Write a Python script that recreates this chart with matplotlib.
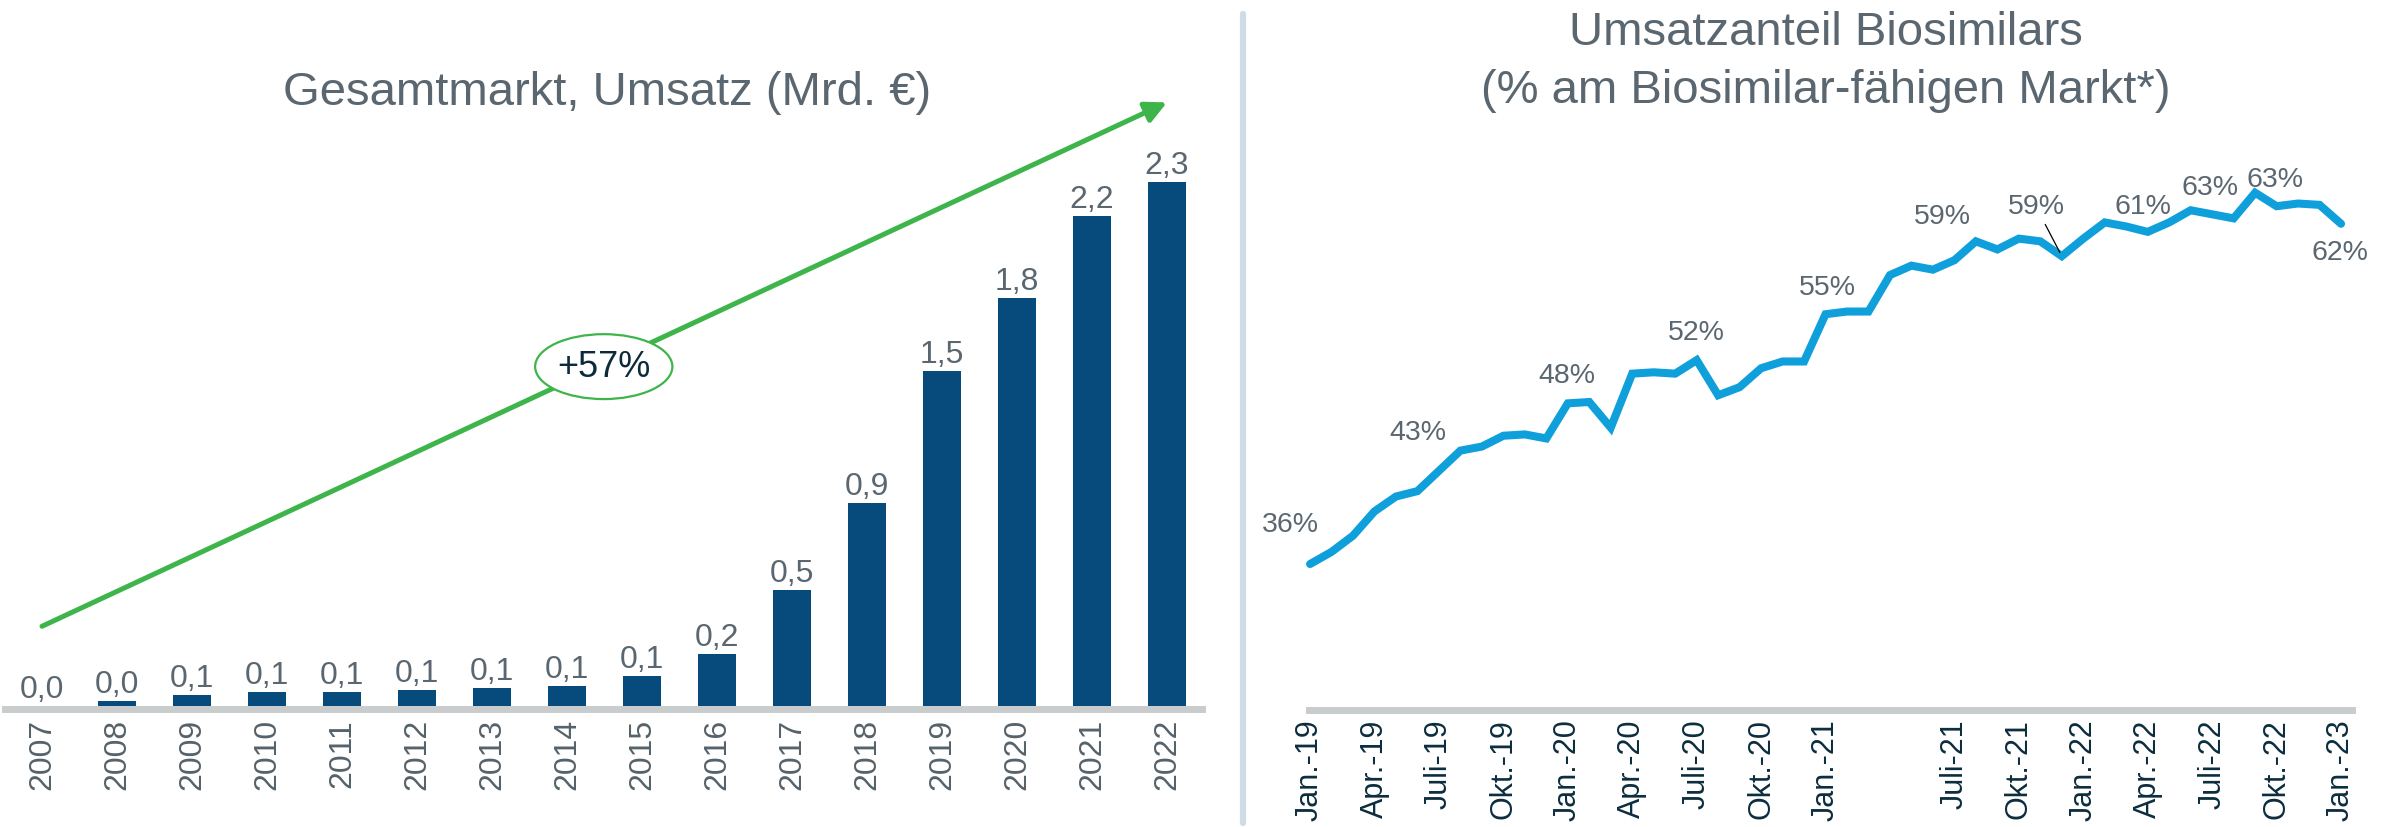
import matplotlib
matplotlib.use('Agg')
import matplotlib.pyplot as plt
from matplotlib.patches import Ellipse
from matplotlib.lines import Line2D

plt.rcParams['font.family'] = ['Liberation Sans', 'DejaVu Sans']

# left chart: total market revenue (bn EUR)
years = ['2007', '2008', '2009', '2010', '2011', '2012', '2013', '2014',
         '2015', '2016', '2017', '2018', '2019', '2020', '2021', '2022']
umsatz = [0.0, 0.02, 0.05, 0.06, 0.06, 0.07, 0.08, 0.09,
          0.13, 0.23, 0.51, 0.89, 1.47, 1.79, 2.15, 2.30]
umsatz_labels = ['0,0', '0,0', '0,1', '0,1', '0,1', '0,1', '0,1', '0,1',
                 '0,1', '0,2', '0,5', '0,9', '1,5', '1,8', '2,2', '2,3']

# right chart: biosimilar share, monthly Jan 2019 - Jan 2023 (%)
anteil = [36.0, 36.9, 38.1, 39.9, 41.0, 41.4, 42.9, 44.4, 44.7, 45.5, 45.6, 45.3,
          47.9, 48.0, 46.1, 50.1, 50.2, 50.1, 51.1, 48.5, 49.1, 50.5, 51.0, 51.0,
          54.5, 54.7, 54.7, 57.4, 58.1, 57.8, 58.5, 59.9, 59.3, 60.1, 59.9, 58.8,
          60.1, 61.3, 61.0, 60.6, 61.3, 62.2, 61.9, 61.6, 63.5, 62.5, 62.7, 62.6,
          61.2]
tick_pos = list(range(0, 49, 3))
tick_labels = ['Jan.-19', 'Apr.-19', 'Juli-19', 'Okt.-19', 'Jan.-20', 'Apr.-20',
               'Juli-20', 'Okt.-20', 'Jan.-21', '', 'Juli-21', 'Okt.-21',
               'Jan.-22', 'Apr.-22', 'Juli-22', 'Okt.-22', 'Jan.-23']
# labelled points: index, text, offset in pixels
point_labels = [(0, '36%', (-20, 40)), (5, '43%', (0, 59)), (12, '48%', (-1, 28)),
                (18, '52%', (0, 28)), (24, '55%', (2, 27)), (31, '59%', (-33, 25)),
                (38, '61%', (17, 20)), (41, '63%', (19, 23)), (44, '63%', (20, 14)),
                (48, '62%', (-1, -28))]
leader_label = (35, '59%', (-25, 50))

grey = '#5b6770'
navy = '#064b7b'
blue = '#0fa0db'
green = '#3db54a'
axis_grey = '#c8cccd'

W, H = 2397, 828
fig = plt.figure(figsize=(W / 100, H / 100), dpi=100)

# ---- left: bars
ax1 = fig.add_axes([0, (H - 707) / H, 1210 / W, 607 / H])
x = range(len(years))
ax1.bar(x, umsatz, width=0.5, color=navy, zorder=2)
for i, (v, lab) in enumerate(zip(umsatz, umsatz_labels)):
    ax1.annotate(lab, (i, v), xytext=(0, 9), textcoords='offset pixels',
                 ha='center', va='baseline', fontsize=23, color=grey)
ax1.set_xlim(-0.56, 15.573)
ax1.set_ylim(0, 2.665)
for s in ['top', 'right', 'left']:
    ax1.spines[s].set_visible(False)
ax1.spines['bottom'].set_position(('outward', 2.5))
ax1.spines['bottom'].set_linewidth(5)
ax1.spines['bottom'].set_color(axis_grey)
ax1.spines['bottom'].set_bounds(-0.49, 15.47)
ax1.set_yticks([])
ax1.set_xticks(list(x))
ax1.set_xticklabels(years, rotation=90, fontsize=23, color='#56626a')
ax1.tick_params(axis='x', length=0, pad=6)

ax1.annotate('', xy=(15, 2.65), xytext=(0, 0.35),
             arrowprops=dict(arrowstyle='-|>', color=green, lw=3.6,
                             mutation_scale=32, shrinkA=0, shrinkB=0))
ax1.add_patch(Ellipse((7.49, 1.49), 1.83, 0.285, facecolor='white',
                      edgecolor=green, lw=1.6, zorder=4))
ax1.text(7.49, 1.49, '+57%', ha='center', va='center', fontsize=26,
         color='#0d2a3b', zorder=5)

fig.text(607 / W, 1 - 105 / H, 'Gesamtmarkt, Umsatz (Mrd. €)', ha='center',
         va='baseline', fontsize=34, color=grey)

# ---- right: line
ax2 = fig.add_axes([1260 / W, (H - 711) / H, 1130 / W, 611 / H])
ax2.plot(range(len(anteil)), anteil, color=blue, lw=5.8, solid_joinstyle='miter',
         solid_capstyle='round', zorder=3)
ax2.set_xlim(-2.33, 50.28)
ax2.set_ylim(25.19, 70.44)
for s in ['top', 'right', 'left']:
    ax2.spines[s].set_visible(False)
ax2.spines['bottom'].set_linewidth(5)
ax2.spines['bottom'].set_color(axis_grey)
ax2.spines['bottom'].set_bounds(-0.05, 48.5)
ax2.set_yticks([])
ax2.set_xticks(tick_pos)
ax2.set_xticklabels(tick_labels, rotation=90, fontsize=22, color='#0c2d3e')
ax2.tick_params(axis='x', length=0, pad=6)

for i, lab, off in point_labels:
    ax2.annotate(lab, (i, anteil[i]), xytext=off, textcoords='offset pixels',
                 ha='center', va='center', fontsize=20.5, color=grey)
i, lab, off = leader_label
ax2.annotate(lab, (i, anteil[i]), xytext=off, textcoords='offset pixels',
             ha='center', va='center', fontsize=20.5, color=grey,
             arrowprops=dict(arrowstyle='-', color='black', lw=0.9,
                             shrinkA=2, shrinkB=3, relpos=(0.6, 0.0)))

fig.text(1826 / W, 1 - 45 / H, 'Umsatzanteil Biosimilars', ha='center',
         va='baseline', fontsize=34, color=grey)
fig.text(1826 / W, 1 - 103 / H, '(% am Biosimilar-fähigen Markt*)', ha='center',
         va='baseline', fontsize=34, color=grey)

# divider between the two panels
fig.add_artist(Line2D([1243 / W, 1243 / W], [1 - 15 / H, 1 - 824 / H],
                      color='#d0dce5', lw=4.5, solid_capstyle='round'))

fig.savefig('out.png', dpi=100, facecolor='white')
